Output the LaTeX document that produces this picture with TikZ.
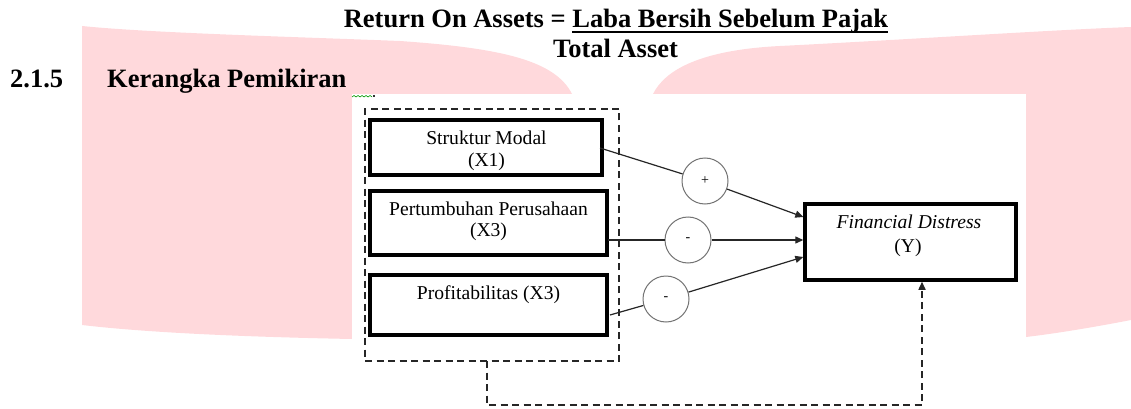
\documentclass[tikz,border=0pt]{standalone}
\usepackage{fontspec}
\setmainfont{Liberation Serif}
\usetikzlibrary{arrows.meta,calc}
\definecolor{wmpink}{RGB}{255,217,220}
\newcommand\myul[1]{\setbox0=\hbox{#1}\rlap{\rule[-5pt]{\wd0}{2pt}}\box0}
\begin{document}
\begin{tikzpicture}[x=1pt,y=-1pt,
  heading/.style={inner sep=0pt, anchor=base, font=\fontsize{26.5}{30}\selectfont\bfseries},
  varbox/.style={draw=black, line width=3.5pt, inner sep=0pt, fill=none},
  vtext/.style={inner sep=0pt, anchor=base, font=\fontsize{19.6}{22}\selectfont},
  grpbox/.style={draw=black!85, line width=1.5pt, dash pattern=on 7pt off 4.5pt, inner sep=0pt},
  sign/.style={circle, draw=black!55, line width=1pt, minimum size=46pt, inner sep=0pt, font=\fontsize{14}{16}\selectfont},
  conn/.style={draw=black!85, line width=1.2pt},
  tip/.style={-{Triangle[length=8pt,width=7pt]}},
  dline/.style={draw=black!85, line width=1.5pt, dash pattern=on 7pt off 4.5pt}
]
\useasboundingbox (0,0) rectangle (1131,409);
% watermark
\fill[wmpink] (82,325) -- (82,26) .. controls (150,33) and (300,37) .. (400,41)
  .. controls (500,48) and (555,60) .. (572,94) -- (572,200) -- (352,200) -- (352,339)
  .. controls (250,337) and (150,333) .. (82,325) -- cycle;
\fill[wmpink] (653,94) .. controls (665,70) and (700,50) .. (780,46)
  .. controls (900,40) and (1050,30) .. (1131,27) -- (1131,320)
  .. controls (1100,326) and (1060,333) .. (1026,337) -- (1026,200) -- (653,200) -- cycle;
\fill[white] (352,94) rectangle (1026,409);
\draw[green!60!black, line width=0.6pt] (352,97) -- (354,95.5) -- (356,97) -- (358,95.5) -- (360,97) -- (362,95.5) -- (364,97) -- (366,95.5) -- (368,97) -- (370,95.5) -- (372,97);
\fill[black!80] (373,95) rectangle (374.5,97.5);
% headings
\node[heading] (t1) at (616,28) {Return On Assets = \myul{Laba Bersih Sebelum Pajak}};
\node[heading] (t2) at (615.5,58) {Total Asset};
\node[heading, anchor=base west] (h1) at (10,88) {2.1.5};
\node[heading, anchor=base west] (h2) at (107,88) {Kerangka Pemikiran};
% group
\node[grpbox, minimum width=254pt, minimum height=252pt] (grp) at (492,235) {};
% boxes
\node[varbox, minimum width=232pt, minimum height=55pt] (x1) at (486,147.5) {};
\node[vtext] (x1a) at (486.5,144) {Struktur Modal};
\node[vtext] (x1b) at (486.5,166) {(X1)};
\node[varbox, minimum width=237pt, minimum height=64pt] (x2) at (488.5,223) {};
\node[vtext] (x2a) at (488.5,215) {Pertumbuhan Perusahaan};
\node[vtext] (x2b) at (488.5,236) {(X3)};
\node[varbox, minimum width=237pt, minimum height=60pt] (x3) at (488.5,305) {};
\node[vtext] (x3a) at (488.5,299) {Profitabilitas (X3)};
\node[varbox, minimum width=211pt, minimum height=76pt] (y) at (910.5,242) {};
\node[vtext] (ya) at (909,228) {\itshape Financial Distress};
\node[vtext] (yb) at (908,252) {(Y)};
% signs
\node[sign] (p1) at (705,181) {+};
\node[sign] (m1) at (688,240) {-};
\node[sign] (m2) at (666,299) {-};
% connector endpoints
\coordinate (s1) at (600,148);
\coordinate (s2) at (608,240);
\coordinate (s3) at (610,315);
\coordinate (e1) at (803.3,217);
\coordinate (e2) at (803.3,240);
\coordinate (e3) at (803.3,257);
\coordinate (d0) at (487,361);
\coordinate (d1) at (487,405);
\coordinate (d2) at (922,405);
% connectors
\draw[conn] (s1) -- (p1);
\draw[conn,tip] (p1) -- (e1);
\draw[conn] (s2) -- (m1);
\draw[conn,tip] (m1) -- (e2);
\draw[conn] (s3) -- (m2);
\draw[conn,tip] (m2) -- (e3);
\draw[dline,tip] (d0) -- (d1) -- (d2) -- (y.south -| d2);
\end{tikzpicture}
\end{document}
